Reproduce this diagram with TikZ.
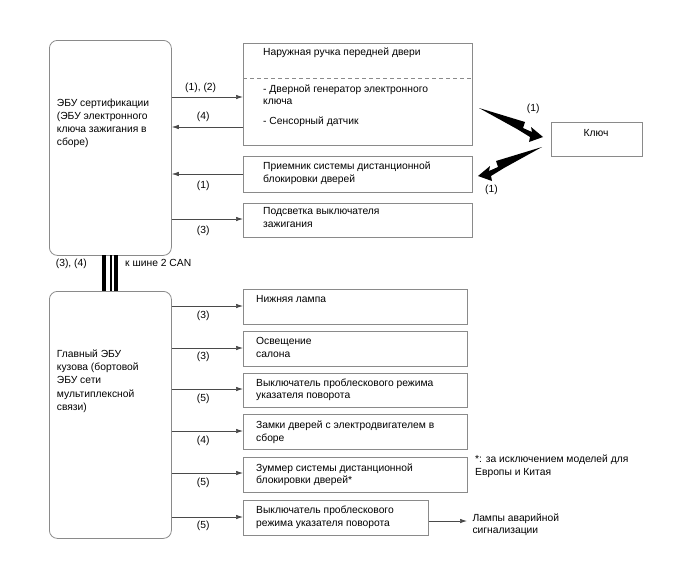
\documentclass[tikz,border=0pt]{standalone}
\usepackage{fontspec}
\setmainfont{Liberation Sans}
\usetikzlibrary{arrows.meta}
\definecolor{boxgray}{HTML}{8A8A8A}
\definecolor{linegray}{HTML}{4A4A4A}
\begin{document}
\begin{tikzpicture}[x=1pt,y=-1pt,
  box/.style={draw=boxgray, line width=0.8pt, anchor=north west, inner sep=0pt},
  ecu/.style={box, rounded corners=8pt},
  conn/.style={draw=linegray, line width=0.7pt, -{Latex[length=7pt,width=4.5pt]}},
  txt/.style={anchor=base west, inner sep=0pt, font=\fontsize{10.3}{12.5}\selectfont, align=left},
  ecutxt/.style={txt, font=\fontsize{10.3}{13.3}\selectfont},
  lbl/.style={anchor=base west, inner sep=0pt, font=\fontsize{10.3}{12}\selectfont},
  bus/.style={draw=black},
  bolt/.style={fill=black}
]
\useasboundingbox (0,0) rectangle (688,560);

% ECUs (multi-line texts are placed by the baseline of their last line)
\node[ecu, minimum width=122, minimum height=215] (ecuA) at (49,40) {};
\node[ecu, minimum width=122, minimum height=247] (ecuB) at (49,291) {};
\node[ecutxt] (ecuAt) at (56.7,145.9) {ЭБУ сертификации\\(ЭБУ электронного\\ключа зажигания в\\сборе)};
\node[ecutxt] (ecuBt) at (56.7,410.5) {Главный ЭБУ\\кузова (бортовой\\ЭБУ сети\\мультиплексной\\связи)};

% CAN bus
\coordinate (busA1) at (104.2,255); \coordinate (busB1) at (104.2,291);
\coordinate (busA2) at (110.7,255); \coordinate (busB2) at (110.7,291);
\coordinate (busA3) at (115.8,255); \coordinate (busB3) at (115.8,291);
\draw[bus, line width=3.7pt] (busA1) -- (busB1);
\draw[bus, line width=2pt] (busA2) -- (busB2);
\draw[bus, line width=3.8pt] (busA3) -- (busB3);
\node[lbl] (l34) at (55.7,266) {(3), (4)};
\node[lbl] (lcan) at (125,266) {к шине 2 CAN};

% upper boxes
\node[box, minimum width=229, minimum height=102] (b1) at (243,43) {};
\coordinate (d1) at (243,78); \coordinate (d2) at (472,78);
\draw[boxgray, line width=0.8pt, dash pattern=on 4pt off 3pt] (d1) -- (d2);
\node[txt] (b1t) at (263,55.5) {Наружная ручка передней двери};
\node[txt] (b1u) at (263,104.5) {- Дверной генератор электронного\\ключа};
\node[txt] (b1v) at (263,124.5) {- Сенсорный датчик};

\node[box, minimum width=229, minimum height=36] (b2) at (243,156) {};
\node[txt] (b2t) at (263,182) {Приемник системы дистанционной\\блокировки дверей};
\node[box, minimum width=229, minimum height=34] (b3) at (243,203) {};
\node[txt] (b3t) at (263,227) {Подсветка выключателя\\зажигания};

% key
\node[box, minimum width=91, minimum height=34] (key) at (551,122) {};
\node[anchor=base, inner sep=0pt, font=\fontsize{10.3}{12}\selectfont] (keyt) at (596,136.5) {Ключ};

% upper connectors
\draw[conn] (ecuA.east |- 0,97) -- (b1.west |- 0,97);
\draw[conn] (b1.west |- 0,127) -- (ecuA.east |- 0,127);
\draw[conn] (b2.west |- 0,174) -- (ecuA.east |- 0,174);
\draw[conn] (ecuA.east |- 0,219) -- (b3.west |- 0,219);
\node[lbl] (la1) at (185,90) {(1), (2)};
\node[lbl] (la2) at (196.7,119) {(4)};
\node[lbl] (la3) at (196.7,188) {(1)};
\node[lbl] (la4) at (196.7,233) {(3)};

% lightning bolts
\fill[bolt, shift={(479,108)}] (0,0) -- (46,14) -- (44,20) -- (53,24) -- (52,19) -- (64,29) -- (50,34) -- (51,29) -- (38,21) -- cycle;
\fill[bolt, shift={(542,147)}, xscale=-1] (0,0) -- (46,14) -- (44,20) -- (53,24) -- (52,19) -- (64,29) -- (50,34) -- (51,29) -- (38,21) -- cycle;
\node[lbl] (lk1) at (526.7,111.7) {(1)};
\node[lbl] (lk2) at (485,192.7) {(1)};

% lower boxes
\node[box, minimum width=224, minimum height=35] (c1) at (243,289) {};
\node[txt] (c1t) at (256,302.7) {Нижняя лампа};
\node[box, minimum width=224, minimum height=35] (c2) at (243,331) {};
\node[txt] (c2t) at (256,357) {Освещение\\салона};
\node[box, minimum width=224, minimum height=34] (c3) at (243,373) {};
\node[txt] (c3t) at (256,398.5) {Выключатель проблескового режима\\указателя поворота};
\node[box, minimum width=224, minimum height=35] (c4) at (243,414) {};
\node[txt] (c4t) at (256,441) {Замки дверей с электродвигателем в\\сборе};
\node[box, minimum width=224, minimum height=35] (c5) at (243,457) {};
\node[txt] (c5t) at (256,483.5) {Зуммер системы дистанционной\\блокировки дверей*};
\node[box, minimum width=185, minimum height=35] (c6) at (243,500) {};
\node[txt] (c6t) at (256,526) {Выключатель проблескового\\режима указателя поворота};

% lower connectors
\draw[conn] (ecuB.east |- 0,306) -- (c1.west |- 0,306);
\draw[conn] (ecuB.east |- 0,348) -- (c2.west |- 0,348);
\draw[conn] (ecuB.east |- 0,389) -- (c3.west |- 0,389);
\draw[conn] (ecuB.east |- 0,431) -- (c4.west |- 0,431);
\draw[conn] (ecuB.east |- 0,473) -- (c5.west |- 0,473);
\draw[conn] (ecuB.east |- 0,517) -- (c6.west |- 0,517);
\node[lbl] (lb1) at (196.7,318) {(3)};
\node[lbl] (lb2) at (196.7,359.5) {(3)};
\node[lbl] (lb3) at (196.7,401) {(5)};
\node[lbl] (lb4) at (196.7,443) {(4)};
\node[lbl] (lb5) at (196.7,485) {(5)};
\node[lbl] (lb6) at (196.7,528) {(5)};

% hazard lamps
\node[txt] (haz) at (472.3,533.5) {Лампы аварийной\\сигнализации};
\coordinate (hazin) at (467,521);
\draw[conn] (c6.east |- 0,521) -- (hazin);

% footnote
\node[txt] (note) at (475,475) {*: за исключением моделей для\\Европы и Китая};
\end{tikzpicture}
\end{document}
